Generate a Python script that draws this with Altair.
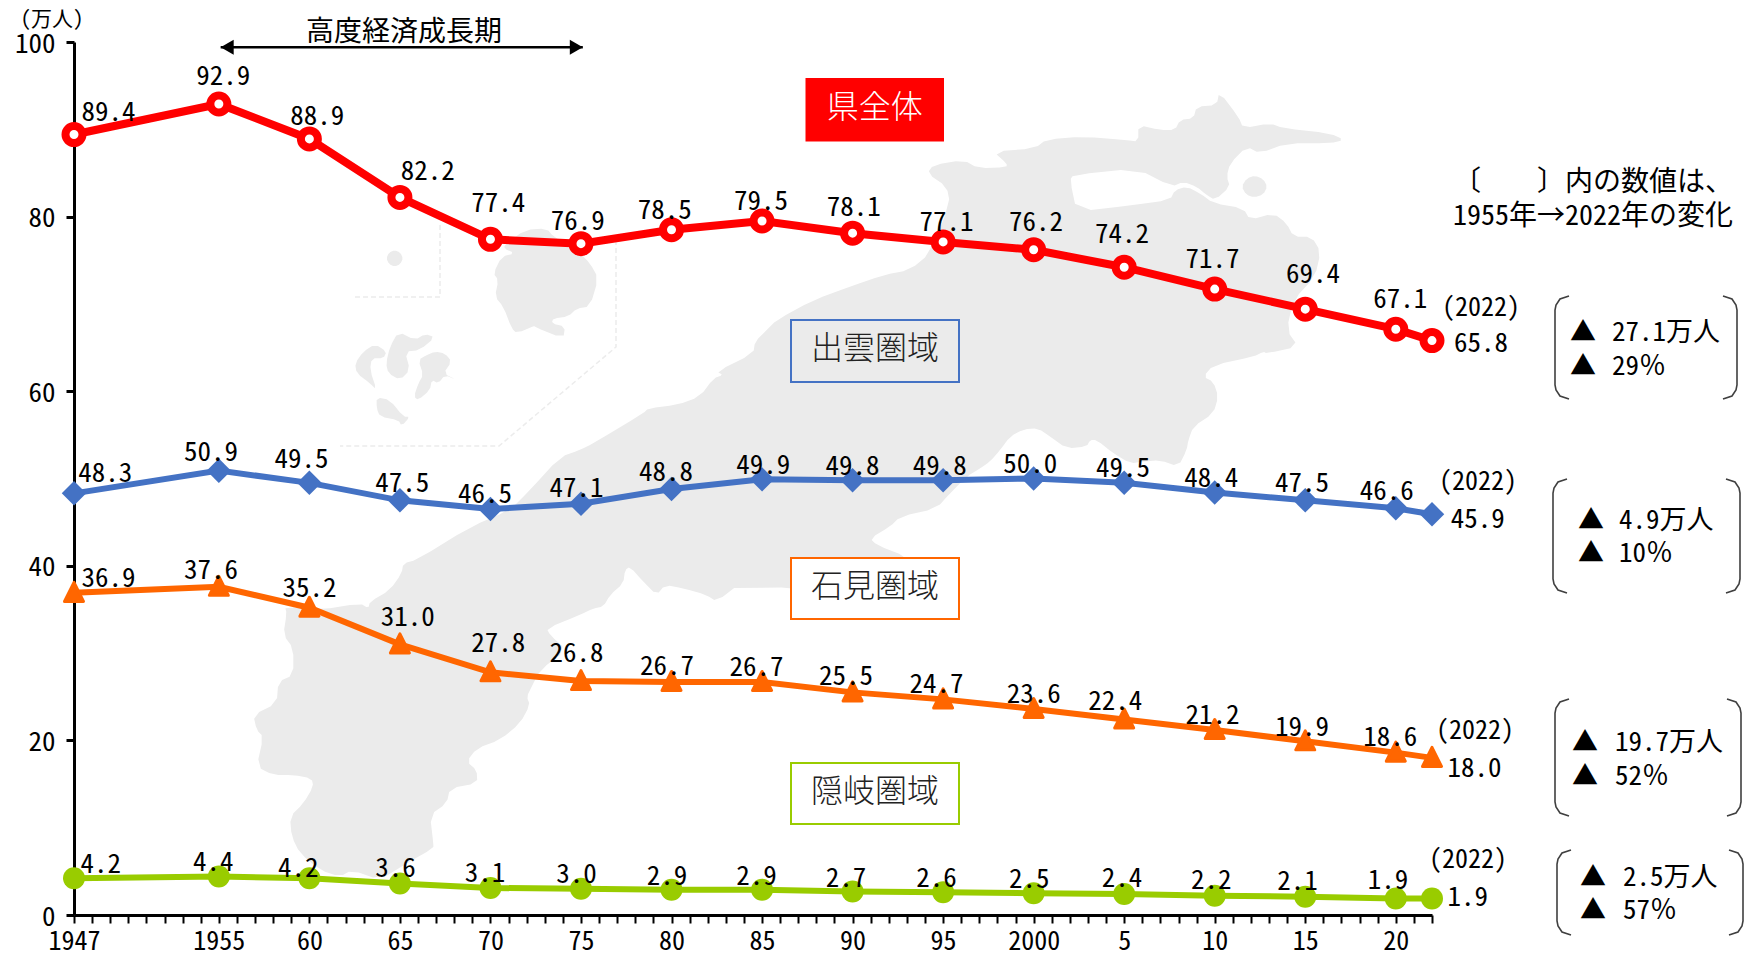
import json
import altair as alt
import pandas as pd

# Population of Shimane prefecture and its three areas (unit: 10,000 people)
years = [1947, 1955, 1960, 1965, 1970, 1975, 1980, 1985, 1990, 1995, 2000, 2005, 2010, 2015, 2020, 2022]
pref_total = [89.4, 92.9, 88.9, 82.2, 77.4, 76.9, 78.5, 79.5, 78.1, 77.1, 76.2, 74.2, 71.7, 69.4, 67.1, 65.8]
izumo = [48.3, 50.9, 49.5, 47.5, 46.5, 47.1, 48.8, 49.9, 49.8, 49.8, 50.0, 49.5, 48.4, 47.5, 46.6, 45.9]
iwami = [36.9, 37.6, 35.2, 31.0, 27.8, 26.8, 26.7, 26.7, 25.5, 24.7, 23.6, 22.4, 21.2, 19.9, 18.6, 18.0]
oki = [4.2, 4.4, 4.2, 3.6, 3.1, 3.0, 2.9, 2.9, 2.7, 2.6, 2.5, 2.4, 2.2, 2.1, 1.9, 1.9]
x_tick_labels = ["1947", "1955", "60", "65", "70", "75", "80", "85", "90", "95", "2000", "5", "10", "15", "20"]

# Label nudges relative to each marker
total_nudge = [(31, -21), (4, -26), (7, -21), (25, -25), (7, -33), (-3, -21), (-6, -19), (-1, -19),
               (1, -24), (3, -19), (2, -26), (-2, -31), (-2, -28), (7, -32), (4, -28), (44, 1)]
izumo_nudge = [(28, -19), (-7, -18), (-7, -22), (2, -16), (-5, -14), (-4, -15), (-5, -16), (1, -14),
               (0, -14), (-3, -14), (-3, -14), (-1, -14), (-3, -14), (-3, -16), (-8, -16), (41, 3)]
iwami_nudge = [(31, -14), (-7, -16), (0, -19), (7, -25), (7, -27), (-4, -26), (-4, -15), (-5, -14),
               (-6, -16), (-6, -15), (0, -14), (-8, -17), (-2, -14), (-3, -14), (-5, -15), (38, 8)]
oki_nudge = [(24, -14), (-5, -14), (-10, -10), (-4, -15), (-5, -14), (-4, -14), (-4, -13), (-5, -13),
             (-6, -13), (-6, -14), (-4, -14), (-2, -15), (-3, -15), (-7, -15), (-7, -17), (32, -2)]

MONO = '"Noto Sans Mono CJK JP", "DejaVu Sans Mono"'
SANS = '"Noto Sans CJK JP"'

LEFT, TOP, W, H = 74, 42, 1358, 873
RIGHT, BOTTOM = 1749 - LEFT - W, 957 - TOP - H
NUDGE_K = 1749 / 1568
LABEL_DROP = 2
PX_PER_YEAR = W / 75
PX_PER_UNIT = H / 100


def series_frame(name, values, nudges):
    return pd.DataFrame({
        "series": name,
        "year": years,
        "value": values,
        "label_year": [y + n[0] * NUDGE_K / PX_PER_YEAR for y, n in zip(years, nudges)],
        "label_value": [v - (n[1] * NUDGE_K + LABEL_DROP) / PX_PER_UNIT for v, n in zip(values, nudges)],
    })


x_scale = alt.Scale(domain=[1947, 2022], nice=False, zero=False)
y_scale = alt.Scale(domain=[0, 100], nice=False)
tick_map = json.dumps({str(y): t for y, t in zip(years, x_tick_labels)})

x_axis = alt.Axis(
    values=list(range(1947, 2023)), labelExpr=f"({tick_map})[datum.value] || ''",
    labelOverlap=False, labelFlush=False, labelBound=False, labelFont=MONO, labelFontSize=26,
    labelColor="black", labelPadding=5, tickColor="black", tickWidth=2, tickSize=8,
    domainColor="black", domainWidth=3, grid=False)
y_axis = alt.Axis(
    values=[0, 20, 40, 60, 80, 100], labelFont=MONO, labelFontSize=27, labelColor="black",
    labelPadding=11, labelOffset=2, tickColor="black", tickWidth=3, tickSize=8,
    domainColor="black", domainWidth=3, grid=False)


# Every layer on the data scales carries the same axis definition, so they merge into one
def xq(field):
    return alt.X(f"{field}:Q", scale=x_scale, title=None, axis=x_axis)


def yq(field):
    return alt.Y(f"{field}:Q", scale=y_scale, title=None, axis=y_axis)


def series_layers(frame, color, line_w, point_mark):
    base = alt.Chart(frame)
    return [
        base.mark_line(color=color, strokeWidth=line_w, clip=False).encode(x=xq("year"), y=yq("value")),
        base.mark_point(clip=False, **point_mark).encode(x=xq("year"), y=yq("value")),
    ]


def label_layer(frame):
    return alt.Chart(frame).mark_text(font=MONO, fontSize=27, color="black", align="center",
                                      baseline="middle", clip=False).encode(
        x=xq("label_year"),
        y=yq("label_value"),
        text=alt.Text("value:Q", format=".1f"),
    )


# --- Map silhouette, outlined on a 3x grid from local sheet origins ---
def sheet(x0, y0, pts):
    return [[x0 + p[0] / 3 - LEFT, y0 + p[1] / 3 - TOP] for p in pts]


def abs_pts(pts):
    return [[p[0] - LEFT, p[1] - TOP] for p in pts]


def soften(ring):
    # One pass of corner cutting so coastlines read as curves
    out = []
    n = len(ring)
    for i in range(n):
        a, b = ring[i], ring[(i + 1) % n]
        out.append([a[0] * 0.75 + b[0] * 0.25, a[1] * 0.75 + b[1] * 0.25])
        out.append([a[0] * 0.25 + b[0] * 0.75, a[1] * 0.25 + b[1] * 0.75])
    return out


mainland = (
    sheet(850, 80, [(232, 280), (250, 255), (340, 240), (385, 265), (470, 262), (470, 250), (430, 215),
                    (555, 205), (590, 178), (700, 170), (830, 180), (865, 185), (865, 135), (930, 150),
                    (975, 150), (990, 120), (1030, 115), (1040, 80), (1100, 75), (1108, 35), (1165, 110),
                    (1180, 145), (1260, 130), (1300, 145), (1440, 160), (1483, 180), (1440, 190),
                    (1310, 190), (1230, 220), (1190, 200), (1140, 250), (1130, 290), (1140, 320),
                    (1095, 360), (1070, 345), (1040, 320), (1000, 305), (965, 320), (860, 265),
                    (670, 285), (660, 300), (680, 395), (850, 375), (960, 360), (975, 330), (1010, 320),
                    (1050, 340), (1090, 370), (1180, 385), (1200, 420), (1270, 400), (1310, 430),
                    (1330, 470), (1385, 470), (1412, 515), (1395, 590), (1330, 660), (1310, 750),
                    (1345, 800), (1250, 820)])
    + sheet(980, 330, [(850, 65), (820, 80), (700, 105), (670, 140), (700, 155), (715, 200), (700, 250),
                       (640, 290), (625, 330), (620, 360), (595, 410), (540, 390), (490, 395), (450, 400),
                       (400, 370), (350, 330), (330, 330), (320, 350), (260, 355), (210, 320), (175, 295),
                       (130, 298), (90, 320), (60, 360), (30, 395), (0, 415)])
    + sheet(560, 300, [(1220, 530), (1170, 580), (1130, 625), (1020, 650), (990, 680), (930, 715),
                       (950, 735), (1040, 770), (1045, 800), (1040, 900)])
    + sheet(240, 560, [(1500, 70), (1430, 125), (1400, 105), (1330, 85), (1275, 75), (1250, 105),
                       (1210, 65), (1170, 20), (1155, 30), (1150, 70), (1110, 105), (1090, 140),
                       (1060, 145), (1020, 165), (920, 205), (930, 225), (980, 270), (900, 330),
                       (875, 380), (860, 410), (870, 435), (840, 490), (780, 540), (710, 565),
                       (680, 605), (710, 630), (712, 670), (630, 685), (620, 730), (570, 765),
                       (580, 850), (580, 865), (500, 910), (420, 960), (335, 930), (300, 950),
                       (240, 930), (180, 880), (155, 830), (150, 770), (190, 730), (220, 680),
                       (215, 655), (160, 645), (100, 645), (50, 620), (70, 530), (50, 510), (40, 465),
                       (110, 430), (115, 365), (160, 345), (160, 265), (130, 225), (140, 160),
                       (135, 140), (240, 150), (360, 130), (385, 145), (390, 125), (450, 90),
                       (485, 40), (490, 10), (530, 0)])
    + abs_pts([(470, 527), (510, 510), (530, 490), (560, 457)])
    + sheet(560, 300, [(60, 450), (100, 430), (250, 340), (265, 325), (350, 315), (420, 290), (460, 235),
                       (490, 225), (470, 215), (580, 160), (585, 125), (620, 90), (650, 60), (760, 0)])
    + sheet(850, 80, [(0, 620), (100, 585), (180, 570), (240, 520), (300, 370), (290, 320)])
)
daikon = sheet(850, 80, [(1175, 320), (1190, 295), (1215, 287), (1240, 297), (1252, 320), (1240, 343),
                         (1212, 353), (1188, 343)])
dogo = sheet(320, 220, [(615, 30), (680, 25), (700, 50), (780, 100), (810, 130), (835, 175), (810, 260),
                        (770, 265), (745, 290), (700, 295), (695, 310), (735, 320), (730, 355),
                        (640, 320), (650, 315), (590, 340), (575, 325), (550, 260), (525, 230),
                        (535, 180), (520, 160), (545, 110), (585, 100), (550, 85), (560, 70)])
takeshima = sheet(320, 220, [(199, 115), (207, 98), (224, 90), (241, 98), (249, 115), (241, 132),
                             (224, 140), (207, 132)])
oki_a = sheet(320, 220, [(105, 430), (130, 395), (165, 372), (200, 395), (190, 415), (155, 415),
                         (150, 450), (170, 510), (150, 490), (110, 460)])
oki_b = sheet(320, 220, [(235, 335), (285, 360), (315, 342), (345, 352), (300, 390), (255, 395),
                         (270, 450), (240, 480), (205, 460), (198, 430), (210, 380)])
oki_c = sheet(320, 220, [(320, 405), (345, 395), (375, 400), (395, 425), (370, 460), (410, 480),
                         (375, 465), (355, 490), (335, 480), (330, 510), (295, 540), (282, 530),
                         (295, 490), (310, 465), (295, 420)])
oki_d = sheet(320, 220, [(170, 532), (210, 540), (250, 590), (270, 590), (245, 618), (235, 600),
                         (180, 590), (170, 565)])


def polygon(ring):
    ring = soften(ring)
    return {"type": "Feature", "properties": {},
            "geometry": {"type": "Polygon", "coordinates": [ring + [ring[0]]]}}


def polyline(pts):
    return {"type": "Feature", "properties": {},
            "geometry": {"type": "LineString", "coordinates": pts}}


IDENTITY = dict(type="identity", scale=1, translate=[0, 0])


def geo_layer(features):
    return alt.Chart(alt.Data(values={"type": "FeatureCollection", "features": features},
                              format=alt.DataFormat(property="features", type="json")))


map_layer = geo_layer([polygon(r) for r in [mainland, daikon, dogo, takeshima, oki_a, oki_b, oki_c, oki_d]]
                      ).mark_geoshape(fill="#ebebeb", stroke=None, clip=False).project(**IDENTITY)

dash_layer = geo_layer([
    polyline(abs_pts([(440, 225), (440, 297), (353, 297)])),
    polyline(abs_pts([(616, 240), (616, 347), (499, 446), (340, 446)])),
]).mark_geoshape(filled=False, stroke="#ececec", strokeWidth=1.5, strokeDash=[5, 3], clip=False).project(**IDENTITY)


def bracket(x1, x2, y1, y2):
    c = 14
    left = [(x1 + c, y1), (x1 + 5, y1 + 3), (x1 + 1, y1 + 9), (x1, y1 + c), (x1, y2 - c),
            (x1 + 1, y2 - 9), (x1 + 5, y2 - 3), (x1 + c, y2)]
    right = [(x2 - c, y1), (x2 - 5, y1 + 3), (x2 - 1, y1 + 9), (x2, y1 + c), (x2, y2 - c),
             (x2 - 1, y2 - 9), (x2 - 5, y2 - 3), (x2 - c, y2)]
    return [polyline(abs_pts(left)), polyline(abs_pts(right))]


bracket_layer = geo_layer(
    bracket(1555, 1737, 296, 399) + bracket(1553, 1740, 479, 593)
    + bracket(1555, 1741, 699, 816) + bracket(1557, 1743, 850, 935)
).mark_geoshape(filled=False, stroke="#404040", strokeWidth=1.6, clip=False).project(**IDENTITY)

# --- Boxed area names ---
box_table = pd.DataFrame([
    {"name": "県全体", "x1": 806.5, "x2": 943, "y1": 79, "y2": 140.5, "fill": "#FF0000", "stroke": "#FF0000", "ink": "#FFFFFF"},
    {"name": "出雲圏域", "x1": 791, "x2": 959, "y1": 320, "y2": 382, "fill": "transparent", "stroke": "#4472C4", "ink": "#222222"},
    {"name": "石見圏域", "x1": 791, "x2": 959, "y1": 558, "y2": 619, "fill": "#FFFFFF", "stroke": "#FF6600", "ink": "#222222"},
    {"name": "隠岐圏域", "x1": 791, "x2": 959, "y1": 763, "y2": 824, "fill": "#FFFFFF", "stroke": "#99CC00", "ink": "#222222"},
])
for col, off in (("x1", LEFT), ("x2", LEFT), ("y1", TOP), ("y2", TOP)):
    box_table[col] = box_table[col] - off
box_table["xm"] = (box_table.x1 + box_table.x2) / 2
box_table["ym"] = (box_table.y1 + box_table.y2) / 2 - 2

box_rect = alt.Chart(box_table).mark_rect(strokeWidth=2, clip=False).encode(
    x=alt.X("x1:Q", scale=None), x2="x2:Q", y=alt.Y("y1:Q", scale=None), y2="y2:Q",
    fill=alt.Fill("fill:N", scale=None), stroke=alt.Stroke("stroke:N", scale=None))
box_text = alt.Chart(box_table).mark_text(font=SANS, fontSize=32, fontWeight=300, align="center",
                                           baseline="middle", clip=False).encode(
    x=alt.X("xm:Q", scale=None), y=alt.Y("ym:Q", scale=None), text="name:N",
    color=alt.Color("ink:N", scale=None))

# --- Free-standing notes ---
notes = [
    ("(万人)", 52, 20, 21, "center"),
    ("高度経済成長期", 404, 33, 28, "center"),
    ("〔　　〕内の数値は、", 1593, 183, 28, "center"),
    ("1955年→2022年の変化", 1593, 217, 28, "center"),
    ("(2022)", 1481, 308, 26, "center"),
    ("(2022)", 1478, 482, 26, "center"),
    ("(2022)", 1475, 731, 26, "center"),
    ("(2022)", 1468, 860, 26, "center"),
    ("▲", 1583, 333, 26, "center"), ("27.1万人", 1612, 333, 27, "left"),
    ("▲", 1583, 367, 26, "center"), ("29％", 1612, 367, 27, "left"),
    ("▲", 1591, 521, 26, "center"), ("4.9万人", 1619, 521, 27, "left"),
    ("▲", 1591, 554, 26, "center"), ("10％", 1619, 554, 27, "left"),
    ("▲", 1585, 743, 26, "center"), ("19.7万人", 1615, 743, 27, "left"),
    ("▲", 1585, 777, 26, "center"), ("52％", 1615, 777, 27, "left"),
    ("▲", 1593, 878, 26, "center"), ("2.5万人", 1623, 878, 27, "left"),
    ("▲", 1593, 911, 26, "center"), ("57％", 1623, 911, 27, "left"),
]
note_layers = []
for text, px, py, size, anchor in notes:
    note_layers.append(
        alt.Chart(pd.DataFrame({"t": [text], "px": [px - LEFT], "py": [py - TOP]})).mark_text(
            font=MONO, fontSize=size, color="black", align=anchor, baseline="middle", clip=False
        ).encode(x=alt.X("px:Q", scale=None), y=alt.Y("py:Q", scale=None), text="t:N")
    )

# --- Double-headed arrow spanning the high-growth era ---
era_table = pd.DataFrame({"start": [1955.1], "end": [1975.1], "level": [99.4]})
era_rule = alt.Chart(era_table).mark_rule(color="black", strokeWidth=2.5, clip=False).encode(
    x=xq("start"), x2="end:Q", y=yq("level"))
head_nudge = 6.5 / PX_PER_YEAR
era_left = alt.Chart(pd.DataFrame({"year": [1955.1 + head_nudge], "level": [99.4]})).mark_point(
    shape="triangle-left", size=225, filled=True, color="black", opacity=1, clip=False).encode(
    x=xq("year"), y=yq("level"))
era_right = alt.Chart(pd.DataFrame({"year": [1975.1 - head_nudge], "level": [99.4]})).mark_point(
    shape="triangle-right", size=225, filled=True, color="black", opacity=1, clip=False).encode(
    x=xq("year"), y=yq("level"))

# --- Series ---
f_total = series_frame("県全体", pref_total, total_nudge)
f_izumo = series_frame("出雲圏域", izumo, izumo_nudge)
f_iwami = series_frame("石見圏域", iwami, iwami_nudge)
f_oki = series_frame("隠岐圏域", oki, oki_nudge)

layers = [map_layer, dash_layer, box_rect, box_text]
layers += series_layers(f_total, "#FF0000", 8, dict(shape="circle", size=289, filled=True, fill="#FFFFFF",
                                                    stroke="#FF0000", strokeWidth=8, opacity=1))
layers += series_layers(f_izumo, "#4472C4", 6, dict(shape="diamond", size=600, filled=True, color="#4472C4", opacity=1))
layers += series_layers(f_iwami, "#FF6600", 6, dict(shape="M0,-1.1L1,0.9L-1,0.9Z", size=361, filled=True, fill="#FF6600",
                                                    stroke="#FF6600", strokeWidth=3, strokeJoin="round", opacity=1))
layers += series_layers(f_oki, "#99CC00", 6, dict(shape="circle", size=484, filled=True, color="#99CC00", opacity=1))
layers += [label_layer(f) for f in (f_total, f_izumo, f_iwami, f_oki)]
layers += [era_rule, era_left, era_right, bracket_layer] + note_layers

chart = alt.layer(*layers).properties(
    width=W, height=H,
    autosize=alt.AutoSizeParams(type="none"),
    padding={"left": LEFT, "top": TOP, "right": RIGHT, "bottom": BOTTOM},
    background="white",
).configure_view(stroke=None)

chart.save("out.html", embed_options={"renderer": "svg", "actions": False})
